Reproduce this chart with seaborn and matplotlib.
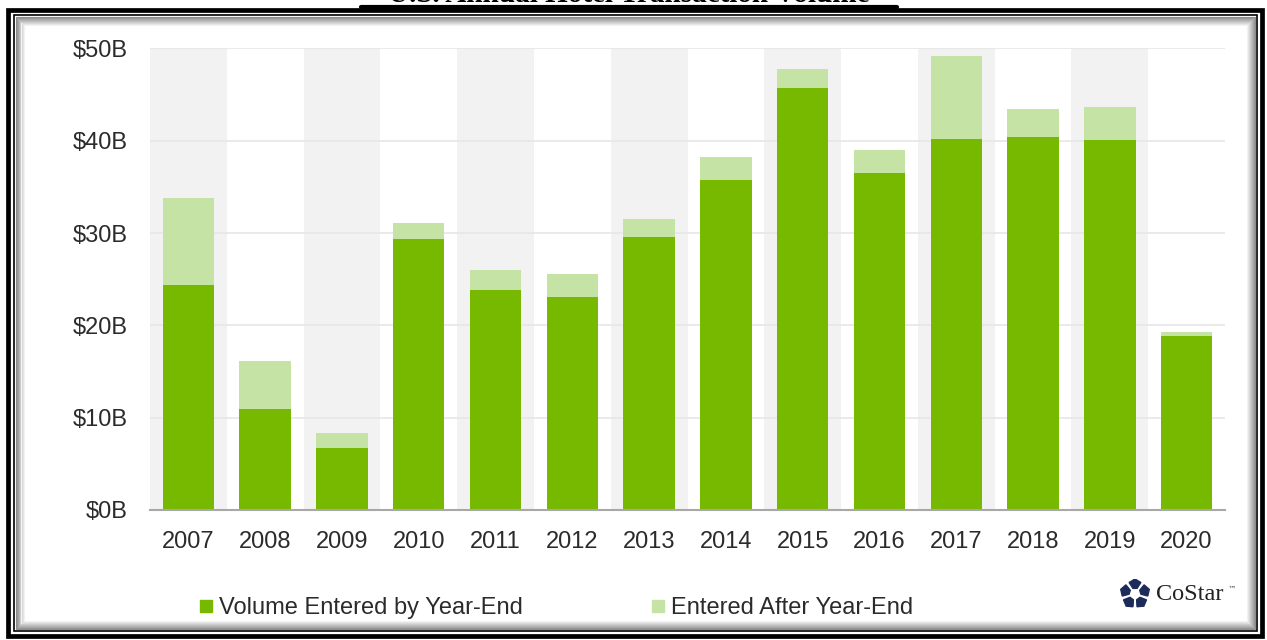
import numpy as np
import pandas as pd
import matplotlib
matplotlib.use("Agg")
import matplotlib.pyplot as plt
from matplotlib.patches import Rectangle, Polygon
from matplotlib.lines import Line2D
import seaborn as sns

# Annual U.S. hotel transaction volume, $ billions
years = ["2007", "2008", "2009", "2010", "2011", "2012", "2013",
         "2014", "2015", "2016", "2017", "2018", "2019", "2020"]
by_year_end = [24.4, 10.9, 6.7, 29.4, 23.8, 23.1, 29.6,
               35.8, 45.7, 36.5, 40.2, 40.4, 40.1, 18.8]
after_year_end = [9.4, 5.2, 1.6, 1.7, 2.2, 2.5, 1.9,
                  2.4, 2.1, 2.5, 9.0, 3.0, 3.6, 0.5]
y_ticks = [0, 10, 20, 30, 40, 50]
y_tick_labels = ["\\$0B", "\\$10B", "\\$20B", "\\$30B", "\\$40B", "\\$50B"]
series_names = ["Volume Entered by Year-End", "Entered After Year-End"]
title = "U.S. Annual Hotel Transaction Volume"

DARK = "#76b900"
LIGHT = "#c5e3a5"
BAND = "#f2f2f2"
GRID = "#e6e6e6"
AXIS = "#a8a8a8"
TEXT = "#2b2b2b"

sns.set_theme(style="white")
plt.rcParams["font.family"] = ["Liberation Sans", "DejaVu Sans"]

W, H = 1267, 640
fig = plt.figure(figsize=(W / 100, H / 100), dpi=100)
fig.patch.set_facecolor("white")


def fx(px):
    return px / W


def fy(py):
    return 1 - py / H


df = pd.DataFrame({"year": years,
                   "by_year_end": by_year_end,
                   "after": after_year_end})
df["total"] = df["by_year_end"] + df["after"]

ax = fig.add_axes([fx(150), fy(510), fx(1225) - fx(150), fy(48) - fy(510)])

# alternating shaded columns
for i in range(0, len(years), 2):
    ax.axvspan(i - 0.5, i + 0.5, color=BAND, zorder=0, lw=0)

sns.barplot(data=df, x="year", y="total", color=LIGHT, width=0.67,
            saturation=1, ax=ax, zorder=2, linewidth=0, edgecolor="none")
sns.barplot(data=df, x="year", y="by_year_end", color=DARK, width=0.67,
            saturation=1, ax=ax, zorder=3, linewidth=0, edgecolor="none")

ax.set_xlim(-0.5, len(years) - 0.5)
ax.set_ylim(0, 50.05)
ax.set_yticks(y_ticks)
ax.set_yticklabels(y_tick_labels)
ax.set_xlabel("")
ax.set_ylabel("")
ax.yaxis.grid(True, color=GRID, lw=1.2, zorder=1)
ax.xaxis.grid(False)
ax.set_axisbelow(True)
for s in ["top", "right", "left"]:
    ax.spines[s].set_visible(False)
ax.spines["bottom"].set_color(AXIS)
ax.spines["bottom"].set_linewidth(1.5)
ax.spines["bottom"].set_zorder(4)
ax.set_xticks(np.arange(-0.5, len(years), 1), minor=True)
ax.tick_params(axis="x", which="major", length=0, pad=15, labelsize=17,
               labelcolor=TEXT)
ax.tick_params(axis="x", which="minor", length=9, width=1.2,
               direction="inout", color=AXIS)
ax.tick_params(axis="y", which="major", length=0, pad=16, labelsize=17,
               labelcolor=TEXT)
ax.set_facecolor("white")

# legend
handles = [Line2D([], [], marker="s", ls="none", markersize=9,
                  markerfacecolor=DARK, markeredgecolor=DARK),
           Line2D([], [], marker="s", ls="none", markersize=9,
                  markerfacecolor=LIGHT, markeredgecolor=LIGHT)]
fig.legend(handles, series_names, loc="center left",
           bbox_to_anchor=(fx(189), fy(608)), ncol=2, frameon=False,
           fontsize=17, handlelength=0.6, handletextpad=0.25,
           columnspacing=5.45, labelcolor=TEXT, borderaxespad=0)

# CoStar mark: five chunky pieces in a ring
lax = fig.add_axes([fx(1120), fy(609), fx(1150) - fx(1120), fy(579) - fy(609)])
lax.set_xlim(-1, 1)
lax.set_ylim(-1, 1)
lax.set_aspect("equal")
lax.axis("off")
for k in range(5):
    a = np.deg2rad(90 + k * 72)
    half = np.deg2rad(27)
    pts = [(1.0 * np.cos(a), 1.0 * np.sin(a)),
           (0.86 * np.cos(a - half), 0.86 * np.sin(a - half)),
           (0.40 * np.cos(a - half * 0.75), 0.40 * np.sin(a - half * 0.75)),
           (0.40 * np.cos(a + half * 0.75), 0.40 * np.sin(a + half * 0.75)),
           (0.86 * np.cos(a + half), 0.86 * np.sin(a + half))]
    lax.add_patch(Polygon(pts, closed=True, color="#1c2b5a"))
fig.text(fx(1156), fy(595), "CoStar", family="Liberation Serif",
         fontsize=17.5, color="#222222", va="center", ha="left")
fig.text(fx(1228), fy(589), "\u2122", family="DejaVu Sans",
         fontsize=6, color="#444444", va="center", ha="left")

# title, sitting above the frame
fig.text(fx(629), fy(2.5), title, family="Liberation Serif",
         fontweight="bold", fontsize=21, ha="center", va="baseline",
         color="black")
fig.add_artist(Line2D([fx(361), fx(897)], [fy(6.5), fy(6.5)], color="black",
                      lw=3, transform=fig.transFigure))

# frame with inner shadow
def frame_rect(left, top, right, bottom, lw, color):
    fig.add_artist(Rectangle((fx(left), fy(bottom)), fx(right) - fx(left),
                             fy(top) - fy(bottom), fill=False, lw=lw,
                             edgecolor=color, transform=fig.transFigure))

frame_rect(8, 10, 1262, 636, 3.4, "black")
frame_rect(13.5, 15, 1256.5, 630.5, 1.2, "black")
for k in range(9):
    g = 0.55 + k * 0.05
    frame_rect(15.5 + k, 17 + k, 1254.5 - k, 628.5 - k, 0.8, str(min(g, 1.0)))

fig.savefig("out.png", dpi=100)
